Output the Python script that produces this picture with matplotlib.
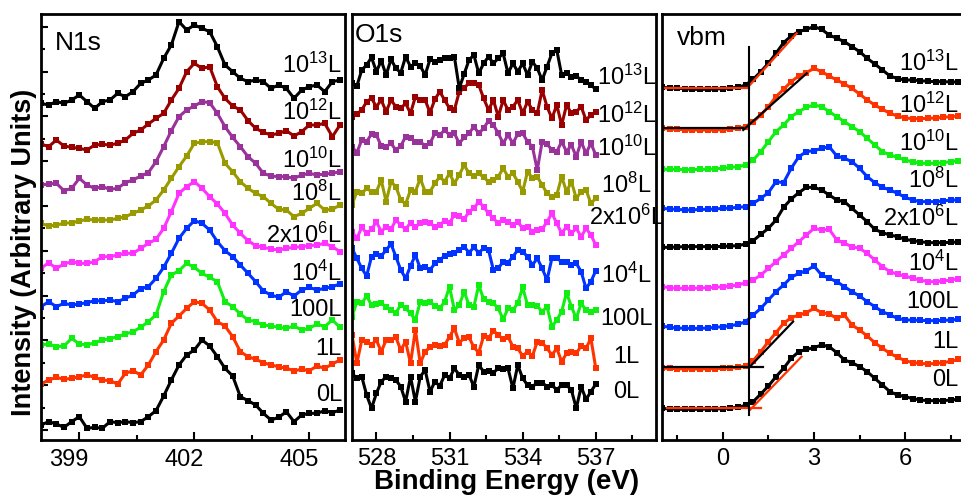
import numpy as np
import matplotlib
matplotlib.use('Agg')
import matplotlib.pyplot as plt
import matplotlib.transforms as mtransforms
from matplotlib.ticker import MultipleLocator, FixedLocator, NullFormatter

plt.rcParams['font.family'] = ['Liberation Sans', 'DejaVu Sans']
plt.rcParams['mathtext.fontset'] = 'custom'
plt.rcParams['mathtext.rm'] = 'Liberation Sans'
plt.rcParams['mathtext.it'] = 'Liberation Sans:italic'
plt.rcParams['mathtext.bf'] = 'Liberation Sans:bold'

# exposure labels, bottom to top
doses = ['0L', '1L', '100L', r'10$^4$L', r'2x10$^6$L', r'10$^8$L',
         r'10$^{10}$L', r'10$^{12}$L', r'10$^{13}$L']

# ---------------- N1s (stacked, arbitrary units) ----------------
n1s_be = np.round(np.arange(398.0, 405.85, 0.2), 2)
n1s_ticks = [399, 402, 405]

n1s_0L = [45, 55, 48, 38, 55, 70, 35, 38, 35, 55, 52, 55, 52, 55, 70, 88, 132, 180, 225, 255,
          270, 300, 282, 250, 215, 192, 130, 118, 105, 80, 60, 68, 85, 55, 75, 80, 80, 88, 82, 90]
n1s_1L = [168, 180, 188, 182, 185, 190, 195, 188, 180, 178, 168, 200, 208, 195, 225, 265, 300, 350, 372, 395,
          415, 410, 390, 355, 342, 310, 265, 250, 242, 232, 225, 220, 215, 208, 212, 208, 222, 215, 228, 240]
n1s_100L = [285, 288, 280, 282, 305, 288, 285, 292, 300, 304, 310, 318, 325, 338, 355, 375, 445, 495, 508, 530,
            518, 500, 488, 475, 415, 400, 378, 360, 355, 345, 342, 338, 335, 342, 330, 335, 348, 340, 360, 338]
n1s_1e4 = [400, 415, 400, 410, 405, 408, 412, 418, 417, 420, 415, 425, 435, 454, 460, 485, 518, 560, 605, 635,
           658, 650, 630, 595, 568, 550, 525, 500, 475, 447, 435, 428, 445, 432, 450, 458, 450, 455, 460, 468]
n1s_2e6 = [515, 532, 515, 528, 535, 530, 530, 535, 550, 550, 555, 560, 560, 575, 590, 602, 635, 685, 740, 760,
           775, 755, 730, 708, 680, 645, 620, 598, 583, 578, 573, 570, 575, 578, 580, 583, 585, 590, 580, 565]
n1s_1e8 = [650, 642, 645, 650, 652, 657, 662, 660, 660, 660, 665, 670, 680, 690, 702, 720, 750, 785, 820, 852,
           890, 895, 895, 892, 830, 805, 775, 755, 740, 730, 710, 692, 690, 670, 680, 695, 710, 690, 692, 705]
n1s_1e10 = [765, 768, 770, 748, 755, 785, 765, 755, 760, 752, 755, 772, 780, 792, 802, 835, 880, 928, 970, 990,
            1002, 1015, 1012, 980, 940, 908, 880, 850, 830, 800, 792, 790, 790, 785, 795, 800, 795, 798, 800, 805]
n1s_1e12 = [888, 880, 900, 882, 878, 875, 870, 885, 887, 885, 890, 900, 920, 930, 948, 965, 980, 1020, 1055, 1105,
            1130, 1115, 1120, 1060, 1025, 1002, 990, 958, 935, 923, 915, 920, 928, 912, 925, 945, 945, 950, 910, 945]
n1s_1e13 = [1010, 1005, 1015, 1010, 1020, 1035, 1015, 995, 1015, 1020, 1040, 1030, 1045, 1070, 1080, 1095, 1145, 1185, 1255, 1230,
            1245, 1235, 1225, 1180, 1125, 1105, 1085, 1075, 1080, 1075, 1055, 1065, 1055, 1025, 1050, 1060, 1065, 1045, 1075, 1080]

# ---------------- O1s ----------------
o1s_be = np.round(np.arange(527.0, 537.05, 0.2), 2)

o1s_0L = [200, 185, 190, 135, 95, 140, 175, 190, 185, 180, 160, 115, 190, 115, 190, 210, 145, 175, 162, 195,
          185, 215, 195, 190, 195, 160, 225, 205, 208, 202, 215, 212, 215, 155, 225, 185, 165, 160, 172, 172,
          160, 165, 150, 165, 165, 150, 95, 160, 122, 145, 168]
o1s_1L = [315, 230, 300, 295, 285, 300, 265, 300, 300, 308, 270, 295, 230, 330, 230, 265, 278, 285, 282, 285,
          310, 335, 292, 305, 308, 278, 262, 312, 305, 328, 315, 302, 310, 280, 275, 252, 265, 252, 295, 292,
          275, 255, 275, 235, 260, 265, 260, 282, 275, 305, 215]
o1s_100L = [370, 415, 410, 432, 405, 408, 410, 400, 390, 382, 405, 395, 380, 360, 415, 410, 415, 402, 395, 415,
            460, 390, 405, 445, 405, 400, 465, 422, 415, 410, 395, 362, 395, 390, 410, 458, 405, 405, 402, 385,
            400, 340, 360, 385, 442, 400, 365, 410, 390, 385, 390]
o1s_1e4 = [575, 545, 515, 492, 550, 558, 552, 570, 588, 550, 510, 485, 522, 555, 515, 518, 510, 530, 540, 552,
           558, 560, 570, 580, 562, 578, 562, 575, 570, 510, 515, 535, 532, 550, 570, 565, 550, 525, 545, 515,
           480, 545, 545, 535, 535, 525, 530, 505, 455, 475, 508]
o1s_2e6 = [625, 605, 638, 620, 632, 655, 625, 640, 632, 660, 645, 632, 652, 638, 652, 655, 650, 640, 645, 658,
           652, 675, 672, 662, 685, 695, 715, 700, 680, 665, 650, 660, 655, 645, 655, 635, 640, 625, 630, 632,
           655, 680, 650, 620, 640, 620, 635, 610, 635, 615, 585]
o1s_1e8 = [705, 745, 740, 755, 745, 745, 780, 715, 775, 760, 720, 708, 750, 745, 785, 745, 745, 770, 790, 775,
           800, 770, 795, 825, 800, 792, 800, 788, 775, 780, 790, 815, 790, 800, 775, 745, 805, 785, 790, 765,
           740, 730, 735, 790, 745, 775, 725, 745, 750, 710, 725]
o1s_1e10 = [880, 862, 900, 895, 918, 915, 882, 880, 890, 870, 882, 910, 905, 895, 895, 882, 890, 920, 915, 930,
            915, 920, 890, 908, 920, 940, 920, 935, 958, 945, 920, 890, 915, 890, 918, 920, 895, 880, 810, 895,
            888, 870, 865, 895, 865, 885, 850, 895, 860, 890, 855]
o1s_1e12 = [970, 978, 990, 1015, 1025, 1000, 1020, 985, 1020, 1000, 995, 1010, 980, 1030, 1020, 1020, 982, 1022, 1045, 1020,
            995, 990, 1045, 1055, 1072, 1072, 1065, 1025, 990, 1020, 970, 1020, 990, 1000, 1020, 980, 1015, 990, 980, 1050,
            1000, 965, 1005, 945, 1005, 980, 985, 1000, 960, 975, 985]
o1s_1e13 = [1070, 1062, 1110, 1125, 1148, 1105, 1138, 1095, 1142, 1115, 1102, 1150, 1120, 1130, 1122, 1095, 1142, 1135, 1140, 1145,
            1145, 1150, 1055, 1098, 1140, 1155, 1100, 1130, 1150, 1130, 1145, 1160, 1100, 1130, 1105, 1130, 1095, 1135, 1115, 1080,
            1120, 1160, 1170, 1095, 1100, 1090, 1092, 1080, 1075, 1065, 1052]

# ---------------- valence band ----------------
vbm_be = np.round(np.arange(-2.0, 8.05, 0.25), 2)

vbm_0L = [95, 93, 92, 92, 92, 92, 93, 93, 94, 96, 98, 104, 115, 138, 162, 190, 215, 245, 265, 272,
          277, 285, 280, 262, 240, 232, 220, 205, 185, 165, 145, 135, 130, 124, 120, 118, 118, 118, 120, 122, 122]
vbm_1L = [215, 215, 214, 213, 213, 213, 214, 214, 215, 216, 218, 222, 238, 265, 295, 322, 350, 367, 375, 382,
          395, 382, 378, 365, 375, 345, 330, 312, 292, 275, 260, 248, 238, 232, 230, 228, 230, 232, 236, 242, 245]
vbm_100L = [342, 338, 336, 335, 335, 335, 336, 338, 340, 343, 347, 355, 375, 395, 420, 445, 465, 488, 500, 508,
            522, 495, 485, 475, 460, 445, 432, 415, 400, 385, 375, 365, 360, 360, 359, 358, 358, 359, 360, 362, 362]
vbm_1e4 = [460, 457, 455, 455, 455, 456, 457, 458, 460, 462, 465, 472, 480, 495, 515, 535, 555, 575, 595, 615,
           635, 630, 632, 600, 590, 580, 575, 560, 540, 520, 505, 497, 492, 485, 480, 475, 475, 477, 480, 484, 485]
vbm_2e6 = [578, 578, 579, 580, 580, 580, 580, 580, 581, 582, 583, 588, 598, 617, 635, 660, 698, 723, 742, 758,
           758, 750, 735, 720, 715, 695, 675, 655, 632, 622, 615, 610, 602, 598, 595, 592, 592, 592, 593, 594, 594]
vbm_1e8 = [695, 693, 692, 690, 690, 692, 692, 693, 695, 696, 698, 700, 710, 725, 742, 775, 772, 815, 850, 865,
           868, 875, 880, 852, 845, 835, 815, 790, 772, 758, 750, 740, 728, 720, 715, 715, 715, 717, 720, 720, 720]
vbm_1e10 = [812, 812, 812, 811, 811, 812, 812, 814, 815, 818, 820, 825, 840, 865, 895, 925, 945, 970, 985, 998,
            1005, 1000, 985, 970, 955, 940, 925, 905, 885, 865, 855, 848, 840, 834, 830, 830, 830, 832, 835, 838, 840]
vbm_1e12 = [935, 933, 932, 931, 930, 930, 930, 930, 931, 933, 935, 940, 955, 975, 1000, 1030, 1052, 1075, 1092, 1102,
            1115, 1105, 1092, 1080, 1068, 1055, 1038, 1020, 1005, 992, 980, 972, 966, 964, 964, 965, 966, 968, 970, 972, 972]
vbm_1e13 = [1058, 1056, 1055, 1054, 1052, 1052, 1052, 1053, 1054, 1056, 1058, 1065, 1082, 1105, 1130, 1160, 1192, 1212, 1225, 1232,
            1240, 1232, 1215, 1205, 1195, 1180, 1165, 1145, 1128, 1110, 1092, 1084, 1080, 1080, 1078, 1076, 1075, 1075, 1074, 1074, 1074]

# linear fits for the band edge (x pair, y pair, colour)
vbm_fits = [
    ([-1.96, 0.86], [1055, 1055], '#FF3300'), ([0.86, 2.43], [1062, 1220], '#FF3300'),
    ([-1.96, 0.67], [935, 935], 'black'), ([0.67, 2.76], [930, 1100], 'black'),
    ([-1.96, 1.33], [220, 220], 'black'), ([0.89, 2.31], [220, 355], 'black'),
    ([-1.85, 1.27], [95, 95], '#FF3300'), ([0.89, 2.59], [90, 250], '#FF3300'),
]
vbm_edge = 0.86

RED, GREEN, BLUE, MAG = '#FF3300', '#11EE11', '#0033FF', '#FF33FF'
OLIVE, PURPLE, DRED = '#999900', '#993399', '#990000'
core_colors = ['black', RED, GREEN, BLUE, MAG, OLIVE, PURPLE, DRED, 'black']
vbm_colors = ['black', RED, BLUE, MAG, 'black', BLUE, GREEN, RED, 'black']

n1s_all = [n1s_0L, n1s_1L, n1s_100L, n1s_1e4, n1s_2e6, n1s_1e8, n1s_1e10, n1s_1e12, n1s_1e13]
o1s_all = [o1s_0L, o1s_1L, o1s_100L, o1s_1e4, o1s_2e6, o1s_1e8, o1s_1e10, o1s_1e12, o1s_1e13]
vbm_all = [vbm_0L, vbm_1L, vbm_100L, vbm_1e4, vbm_2e6, vbm_1e8, vbm_1e10, vbm_1e12, vbm_1e13]

# label heights (text centre) in each panel
n1s_lab_y = [141, 279, 396, 501, 615, 741, 840, 984, 1125]
o1s_lab_y = [150, 255, 369, 495, 669, 765, 876, 975, 1089]
vbm_lab_y = [186, 300, 420, 531, 666, 780, 891, 1005, 1131]

W, H = 961, 495
fig = plt.figure(figsize=(W / 100, H / 100), dpi=100)
bot, hgt = (H - 440) / H, 426 / H
ax1 = fig.add_axes([41 / W, bot, 304 / W, hgt])
ax2 = fig.add_axes([352 / W, bot, 304 / W, hgt])
ax3 = fig.add_axes([662 / W, bot, 304 / W, hgt])

line_kw = dict(lw=2.2, marker='s', ms=4.0, mew=0)
lab_kw = dict(fontsize=17)

for y, c in zip(n1s_all, core_colors):
    ax1.plot(n1s_be, y, color=c, **line_kw)
for lab, ly in zip(doses, n1s_lab_y):
    ax1.text(405.85, ly - 24, lab, ha='right', va='baseline', **lab_kw)

for y, c in zip(o1s_all, core_colors):
    ax2.plot(o1s_be, y, color=c, **line_kw)
for lab, ly in zip(doses, o1s_lab_y):
    ax2.text(538.27, ly - 24, lab, ha='center', va='baseline', **lab_kw)

for y, c in zip(vbm_all, vbm_colors):
    ax3.plot(vbm_be, y, color=c, **line_kw)
for xs, ys, c in vbm_fits:
    ax3.plot(xs, ys, color=c, lw=1.6)
ax3.plot([vbm_edge, vbm_edge], [75, 1180], color='black', lw=1.5)
for lab, ly in zip(doses, vbm_lab_y):
    ax3.text(7.75, ly - 24, lab, ha='right', va='baseline', **lab_kw)

ax1.set_xlim(398.0, 405.93)
ax2.set_xlim(527.0, 539.47)
ax3.set_xlim(-2.0, 8.0)

for ax in (ax1, ax2, ax3):
    ax.set_ylim(0, 1278)
    for s in ax.spines.values():
        s.set_linewidth(2.0)
    ax.xaxis.set_major_locator(MultipleLocator(3))
    ax.xaxis.set_minor_locator(MultipleLocator(1.5))
    ax.tick_params(axis='x', which='major', direction='in', length=6, width=1.5,
                   labelsize=17, pad=6)
    ax.tick_params(axis='x', which='minor', direction='in', length=3.5, width=1.5)
    ax.tick_params(axis='y', left=False, right=False, labelleft=False)

# N1s tick labels sit a little left of their ticks in the original
ax1.tick_params(axis='x', labelbottom=False)
n1s_lab_tr = mtransforms.blended_transform_factory(ax1.transData, ax1.transAxes)
for v in n1s_ticks:
    ax1.text(v - 0.27, -0.021, str(v), transform=n1s_lab_tr, ha='center', va='top', fontsize=17)

ax1.yaxis.set_major_locator(FixedLocator(np.arange(30, 1278, 134.4)))
ax1.yaxis.set_minor_locator(FixedLocator(np.arange(97.2, 1278, 134.4)))
ax1.yaxis.set_major_formatter(NullFormatter())
ax1.tick_params(axis='y', which='major', left=True, direction='in', length=5, width=1.5)
ax1.tick_params(axis='y', which='minor', left=True, direction='in', length=3, width=1.5)

ax1.text(0.046, 0.932, 'N1s', transform=ax1.transAxes, ha='left', va='center', fontsize=19)
ax2.text(0.01, 0.951, 'O1s', transform=ax2.transAxes, ha='left', va='center', fontsize=19)
ax3.text(0.05, 0.944, 'vbm', transform=ax3.transAxes, ha='left', va='center', fontsize=19)

fig.text(507 / W, 1 - 489 / H, 'Binding Energy (eV)', ha='center', va='baseline',
         fontsize=20, fontweight='bold')
fig.text(24 / W, 1 - 252 / H, 'Intensity (Arbitrary Units)', ha='center', va='center',
         rotation=90, fontsize=19.5, fontweight='bold')

fig.savefig('out.png', dpi=100)
